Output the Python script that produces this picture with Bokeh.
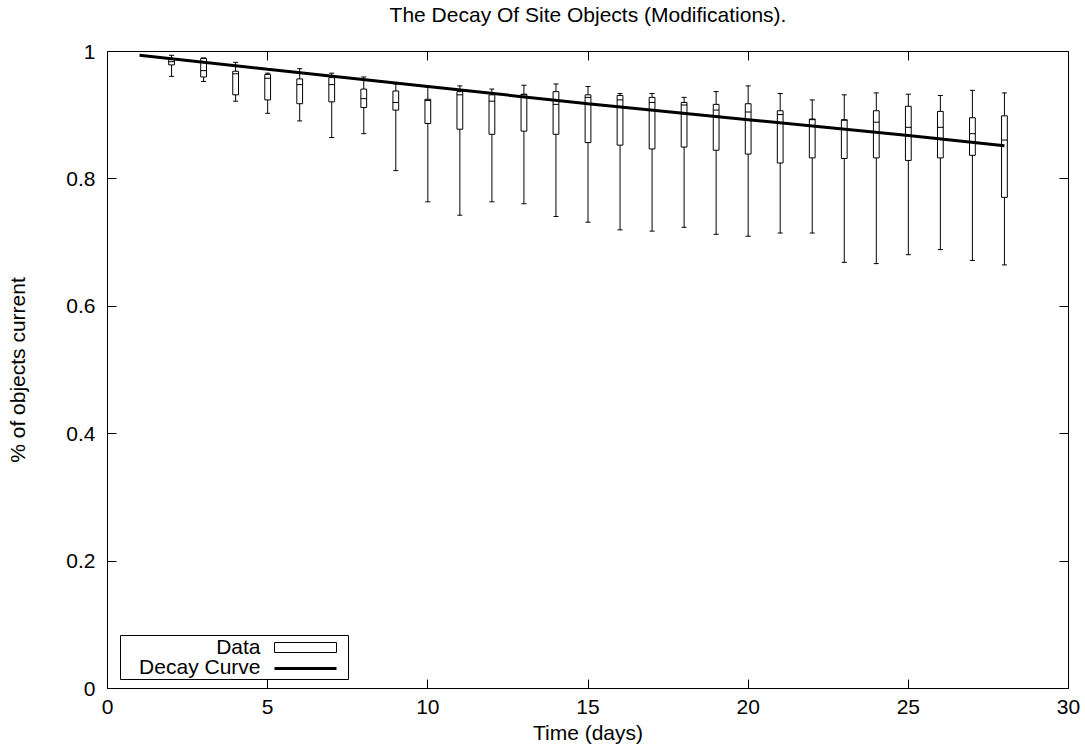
from bokeh.plotting import figure
from bokeh.models import (LinearAxis, FixedTicker, CustomJSTickFormatter,
                          BoxAnnotation, Label)
from bokeh.embed import file_html
from bokeh.resources import INLINE

# ---- data ----
days = [2, 3, 4, 5, 6, 7, 8, 9, 10, 11, 12, 13, 14, 15, 16, 17, 18, 19, 20,
        21, 22, 23, 24, 25, 26, 27, 28]
whisker_high = [0.994, 0.990, 0.983, 0.966, 0.973, 0.966, 0.960, 0.949, 0.944,
                0.946, 0.941, 0.947, 0.949, 0.945, 0.934, 0.934, 0.928, 0.937,
                0.946, 0.934, 0.924, 0.932, 0.935, 0.933, 0.931, 0.939, 0.935]
box_high = [0.988, 0.989, 0.969, 0.964, 0.957, 0.959, 0.941, 0.938, 0.925,
            0.937, 0.932, 0.933, 0.937, 0.932, 0.931, 0.928, 0.920, 0.917,
            0.918, 0.907, 0.894, 0.893, 0.907, 0.914, 0.906, 0.896, 0.899]
median = [0.984, 0.970, 0.965, 0.958, 0.948, 0.948, 0.926, 0.920, 0.923,
          0.932, 0.922, 0.932, 0.917, 0.928, 0.924, 0.920, 0.916, 0.908,
          0.905, 0.901, 0.893, 0.892, 0.889, 0.881, 0.881, 0.871, 0.861]
box_low = [0.979, 0.960, 0.932, 0.924, 0.918, 0.921, 0.912, 0.908, 0.887,
           0.878, 0.870, 0.875, 0.870, 0.857, 0.853, 0.847, 0.850, 0.845,
           0.839, 0.825, 0.833, 0.832, 0.833, 0.829, 0.833, 0.837, 0.771]
whisker_low = [0.961, 0.953, 0.922, 0.903, 0.891, 0.865, 0.871, 0.813, 0.764,
               0.743, 0.764, 0.761, 0.741, 0.732, 0.720, 0.718, 0.724, 0.713,
               0.710, 0.715, 0.715, 0.669, 0.667, 0.681, 0.689, 0.672, 0.665]

curve_days = [1, 5, 10, 15, 20, 25, 28]
curve_values = [0.994, 0.972, 0.945, 0.918, 0.893, 0.868, 0.852]

x_ticks = [0, 5, 10, 15, 20, 25, 30]
x_tick_labels = ["0", "5", "10", "15", "20", "25", "30"]
y_ticks = [0, 0.2, 0.4, 0.6, 0.8, 1.0]
y_tick_labels = ["0", "0.2", "0.4", "0.6", "0.8", "1"]

TITLE = "The Decay Of Site Objects (Modifications)."
FONT = "Liberation Sans"
FS = "21px"

W, H = 1084, 754
ML, MR, MT, MB = 107, 16, 49, 66

p = figure(width=W, height=H, x_range=(0, 30), y_range=(0, 1),
           output_backend="svg", toolbar_location=None,
           min_border_left=ML, min_border_right=MR, min_border_top=MT,
           min_border_bottom=MB, title=TITLE)
p.background_fill_color = "white"
p.border_fill_color = "white"
p.grid.visible = False
p.outline_line_color = "black"
p.outline_line_width = 1
p.outline_line_alpha = 1

p.title.text_font = FONT
p.title.text_font_size = FS
p.title.text_font_style = "normal"
p.title.text_color = "black"
p.title.align = "center"
p.title.vertical_align = "bottom"
p.title.standoff = 0

# main axes
for ax, ticks, labels in ((p.xaxis[0], x_ticks, x_tick_labels),
                          (p.yaxis[0], y_ticks, y_tick_labels)):
    ax.ticker = FixedTicker(ticks=ticks)
    ax.major_label_overrides = {t: l for t, l in zip(ticks, labels)}
    ax.major_tick_in = 9
    ax.major_tick_out = 0
    ax.minor_tick_in = 0
    ax.minor_tick_out = 0
    ax.axis_line_color = None
    ax.major_tick_line_color = "black"
    ax.major_label_text_font = FONT
    ax.major_label_text_font_size = FS
    ax.major_label_text_color = "black"
    ax.axis_label_text_font = FONT
    ax.axis_label_text_font_size = FS
    ax.axis_label_text_font_style = "normal"
    ax.axis_label_text_color = "black"

p.xaxis.axis_label = "Time (days)"
p.yaxis.axis_label = "% of objects current"
p.xaxis.major_label_standoff = 11
p.xaxis.axis_label_standoff = 4
p.yaxis.major_label_standoff = 12
p.yaxis.axis_label_standoff = 34

# mirrored ticks on top (blank labels also space the title) and right
top_ax = LinearAxis(ticker=FixedTicker(ticks=x_ticks),
                    formatter=CustomJSTickFormatter(code="return ' '"),
                    major_tick_in=9, major_tick_out=0,
                    minor_tick_in=0, minor_tick_out=0,
                    axis_line_color=None, major_label_standoff=3,
                    major_label_text_font=FONT,
                    major_label_text_font_size="18px")
p.add_layout(top_ax, "above")
right_ax = LinearAxis(ticker=FixedTicker(ticks=y_ticks),
                      formatter=CustomJSTickFormatter(code="return ''"),
                      major_tick_in=9, major_tick_out=0,
                      minor_tick_in=0, minor_tick_out=0,
                      axis_line_color=None, major_label_standoff=0,
                      major_label_text_font_size="1px")
p.add_layout(right_ax, "right")

# box plot
p.segment(x0=days, y0=whisker_low, x1=days, y1=whisker_high,
          line_color="black", line_width=1)
p.scatter(x=days, y=whisker_high, marker="dash", size=5,
          line_color="black", line_width=1)
p.scatter(x=days, y=whisker_low, marker="dash", size=5,
          line_color="black", line_width=1)
p.vbar(x=days, width=0.18, top=box_high, bottom=box_low,
       fill_color="white", line_color="black", line_width=1)
p.scatter(x=days, y=median, marker="dash", size=6,
          line_color="black", line_width=1)

# decay curve
p.line(x=curve_days, y=curve_values, line_color="black", line_width=3)

# legend (gnuplot style: label left, sample right)
def sbox(**kw):
    return BoxAnnotation(left_units="screen", right_units="screen",
                         bottom_units="screen", top_units="screen", **kw)

p.add_layout(sbox(left=13, right=241, bottom=9, top=53,
                  fill_color="white", fill_alpha=1,
                  line_color="black", line_width=1, line_alpha=1))
p.add_layout(sbox(left=167, right=229, bottom=36, top=46,
                  fill_color="white", fill_alpha=1,
                  line_color="black", line_width=1, line_alpha=1))
p.add_layout(sbox(left=167, right=229, bottom=18.5, top=21.5,
                  fill_color="black", fill_alpha=1, line_color=None))
p.add_layout(Label(x=153, y=42, x_units="screen", y_units="screen",
                   text="Data", text_align="right",
                   text_baseline="alphabetic", text_font=FONT,
                   text_font_size=FS, text_color="black"))
p.add_layout(Label(x=153, y=22.5, x_units="screen", y_units="screen",
                   text="Decay Curve", text_align="right",
                   text_baseline="alphabetic", text_font=FONT,
                   text_font_size=FS, text_color="black"))

open("out.html", "w").write(file_html(p, INLINE))
